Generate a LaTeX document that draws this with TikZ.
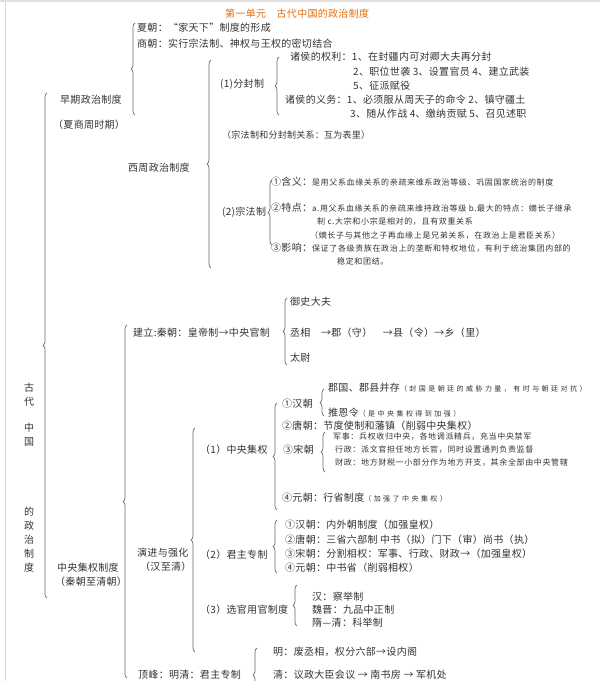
\documentclass[tikz,border=0pt]{standalone}
\usepackage{fontspec}
\setmainfont{Noto Sans CJK SC}
\newfontfamily\zhuti[LetterSpace=3]{Noto Sans CJK SC}
\newfontfamily\xiaoti[LetterSpace=8]{Noto Sans CJK SC}
\newfontfamily\weiti[LetterSpace=35]{Noto Sans CJK SC}
\newcommand\zhu{\zhuti\fontsize{10}{14}\selectfont}
\newcommand\xiao{\xiaoti\fontsize{8}{13}\selectfont}
\newcommand\wei{\weiti\fontsize{7}{10}\selectfont}
\usetikzlibrary{decorations.pathreplacing}
\definecolor{biaoti}{HTML}{E46C0A}
\tikzset{
  wz/.style={anchor=west, inner sep=0pt, font=\zhu, text=black!80},
  xz/.style={wz, font=\xiao},
  kuohao/.style={decorate, decoration={brace, amplitude=4pt}, draw=black!60, line width=0.7pt}
}

\begin{document}
\begin{tikzpicture}[x=1pt,y=-1pt]
            \useasboundingbox (0,0) rectangle (600,681);
            \clip (0,0) rectangle (600,681);
            \fill[black!12] (0,0) rectangle (600,2);
            \draw[black!15] (5,2)--(5,681);
            \node[wz, text=biaoti] (title) at (225,14) {第一单元　古代中国的政治制度};

            \node[wz, align=center, font=\zhuti\fontsize{10}{14}\selectfont] (gu) at (24,395) {古\\代};
            \node[wz, align=center, font=\zhuti\fontsize{10}{14}\selectfont] (zg) at (24,435) {中\\国};
            \node[wz, align=center, font=\zhuti\fontsize{10}{14}\selectfont] (dzz) at (24,540) {的\\政\\治\\制\\度};
            \draw[kuohao] (47,598)--(47,93);

            \node[wz] (zaoqi) at (60,100) {早期政治制度};
            \node[wz] (xsz) at (53,125) {（夏商周时期）};
            \draw[kuohao] (135,115)--(135,23);
            \node[wz] (xia) at (137,28) {夏朝：“家天下”制度的形成};
            \node[wz] (shang) at (137,44) {商朝：实行宗法制、神权与王权的密切结合};

            \node[wz] (xizhou) at (128,168) {西周政治制度};
            \draw[kuohao] (211,268)--(211,60);
            \node[wz] (fenfeng) at (220,84) {(1)分封制};
            \draw[kuohao] (279,115)--(279,57);
            \node[wz] (qx1) at (290,57) {诸侯的权利：1、在封疆内可对卿大夫再分封};
            \node[wz] (qx2) at (353,72) {2、职位世袭 3、设置官员 4、建立武装};
            \node[wz] (qx3) at (353,86) {5、征派赋役};
            \node[wz] (yw1) at (285,100) {诸侯的义务：1、必须服从周天子的命令 2、镇守疆土};
            \node[wz] (yw2) at (350,114) {3、随从作战 4、缴纳贡赋 5、召见述职};
            \node[xz, font=\zhuti\fontsize{9}{12}\selectfont] (guanxi) at (222,135) {（宗法制和分封制关系：互为表里）};

            \node[wz] (zongfa) at (222,212) {(2)宗法制};
            \draw[kuohao] (272,245)--(272,180);
            \node[wz] (hanyi) at (271,182) {①含义：{\xiao 是用父系血缘关系的亲疏来维系政治等级、巩固国家统治的制度}};
            \node[wz] (tedian) at (271,208) {②特点：{\xiao a.用父系血缘关系的亲疏来维持政治等级 b.最大的特点：嫡长子继承}};
            \node[xz] (tedian2) at (317,222) {制 c.大宗和小宗是相对的，且有双重关系};
            \node[xz] (tedian3) at (310,235) {（嫡长子与其他之子再血缘上是兄弟关系，在政治上是君臣关系）};
            \node[wz] (yingxiang) at (271,248) {③影响：{\xiao 保证了各级贵族在政治上的垄断和特权地位，有利于统治集团内部的}};
            \node[xz] (yingxiang2) at (337,261) {稳定和团结。};

            \node[wz] (zyjq) at (57,568) {中央集权制度};
            \node[wz] (qzq) at (55,582) {（秦朝至清朝）};
            \draw[kuohao] (127,678)--(127,325);

            \node[wz] (jianli) at (133,333) {建立:秦朝：皇帝制→中央官制};
            \draw[kuohao] (287,365)--(287,298);
            \node[wz] (ysdf) at (290,302) {御史大夫};
            \node[wz] (cx) at (290,333) {丞相　→郡（守）　→县（令）→乡（里）};
            \node[wz] (tw) at (290,358) {太尉};

            \node[wz] (yanjin) at (137,553) {演进与强化};
            \node[wz] (hzq) at (140,567) {（汉至清）};
            \draw[kuohao] (195,652)--(195,428);

            \node[wz] (jq) at (200,450) {（1）中央集权};
            \draw[kuohao] (277,510)--(277,403);
            \node[wz] (jqhan) at (282,404) {①汉朝};
            \draw[kuohao] (324,416)--(324,389);
            \node[wz] (jgx) at (328,388) {郡国、郡县并存{\wei（封国是朝廷的威胁力量，有时与朝廷对抗）}};
            \node[wz] (tel) at (328,413) {推恩令{\wei（是中央集权得到加强）}};
            \node[wz] (jqtang) at (282,426) {②唐朝：节度使制和藩镇（削弱中央集权）};
            \node[wz] (jqsong) at (283,450) {③宋朝};
            \draw[kuohao] (325,472)--(325,432);
            \node[xz] (junshi) at (333,437) {军事：兵权收归中央，各地调派精兵，充当中央禁军};
            \node[xz] (xingzheng) at (335,450) {行政：派文官担任地方长官，同时设置通判负责监督};
            \node[xz] (caizheng) at (335,463) {财政：地方财税一小部分作为地方开支，其余全部由中央管辖};
            \node[wz] (jqyuan) at (282,498) {④元朝：行省制度{\wei（加强了中央集权）}};

            \node[wz] (jz) at (200,555) {（2）君主专制};
            \draw[kuohao] (277,573)--(277,520);
            \node[wz] (jzhan) at (285,525) {①汉朝：内外朝制度（加强皇权）};
            \node[wz] (jztang) at (285,540) {②唐朝：三省六部制 中书（拟）门下（审）尚书（执）};
            \node[wz] (jzsong) at (285,554) {③宋朝：分割相权：军事、行政、财政→（加强皇权）};
            \node[wz] (jzyuan) at (285,568) {④元朝：中书省（削弱相权）};

            \node[wz] (xg) at (200,610) {（3）选官用官制度};
            \draw[kuohao] (297,626)--(297,585);
            \node[wz] (cj) at (312,597) {汉：察举制};
            \node[wz] (jp) at (312,610) {魏晋：九品中正制};
            \node[wz] (kj) at (312,623) {隋—清：科举制};

            \node[wz] (dingfeng) at (138,675) {顶峰：明清：君主专制};
            \draw[kuohao] (257,702)--(257,648);
            \node[wz] (ming) at (273,652) {明：废丞相，权分六部→设内阁};
            \node[wz] (qing) at (273,675) {清：议政大臣会议 → 南书房 → 军机处};
        \end{tikzpicture}
\end{document}
